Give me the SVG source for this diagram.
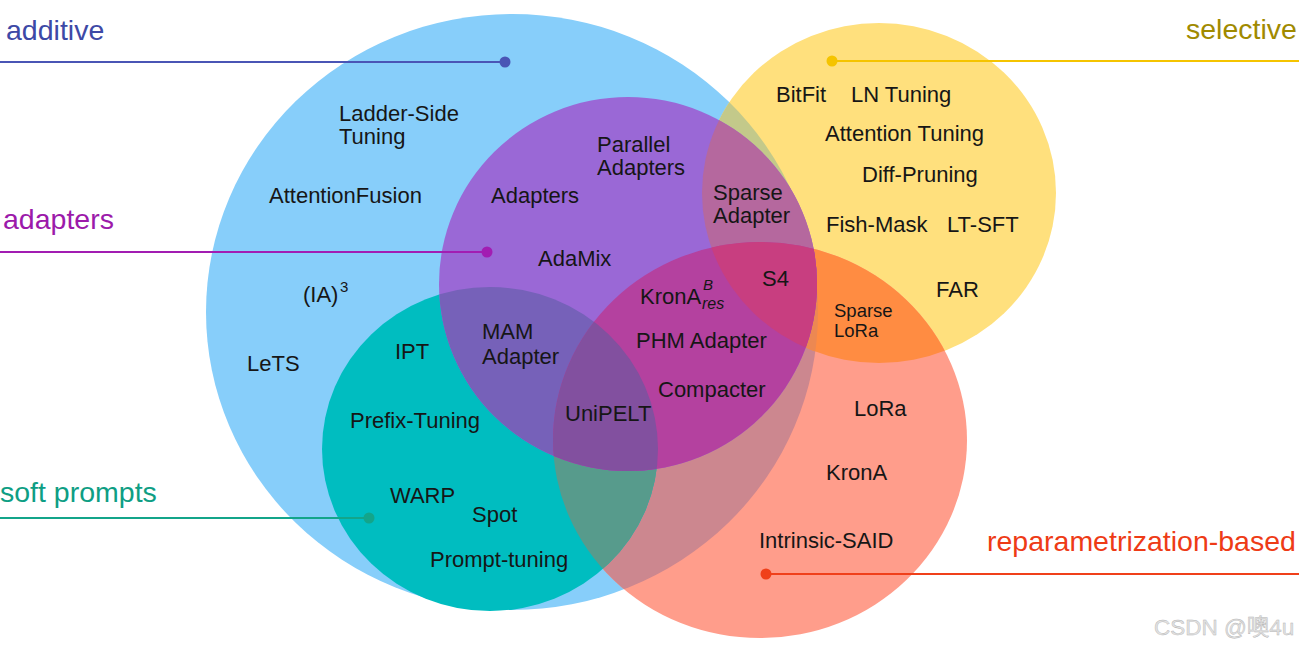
<svg xmlns="http://www.w3.org/2000/svg" xmlns:xlink="http://www.w3.org/1999/xlink" width="1299" height="649" viewBox="0 0 1299 649">
<style>
.t{font-family:"Liberation Sans",Arial,sans-serif;font-size:22px;fill:#161616}
.s{font-size:18.5px}
.cat{font-family:"Liberation Sans",Arial,sans-serif;font-size:28.5px}
.ln{stroke-width:2;fill:none}
</style>
<defs>
<ellipse id="eB" cx="512" cy="312" rx="306" ry="298"/>
<ellipse id="eY" cx="879" cy="193" rx="177" ry="170"/>
<ellipse id="eP" cx="628" cy="284" rx="189" ry="187"/>
<ellipse id="eT" cx="490" cy="449" rx="168" ry="162"/>
<ellipse id="eR" cx="760" cy="440" rx="207" ry="198"/>
<clipPath id="cB"><use xlink:href="#eB"/></clipPath>
<clipPath id="cY"><use xlink:href="#eY"/></clipPath>
<clipPath id="cP"><use xlink:href="#eP"/></clipPath>
<clipPath id="cT"><use xlink:href="#eT"/></clipPath>
<clipPath id="cR"><use xlink:href="#eR"/></clipPath>
</defs>
<rect width="1299" height="649" fill="#ffffff"/>

<g id="additive">
<use xlink:href="#eB" fill="#87CEFA"/>
</g>
<g id="selective">
<use xlink:href="#eY" fill="#FFE07D"/>
<use xlink:href="#eY" fill="#C3C98A" clip-path="url(#cB)"/>
</g>
<g id="reparametrization-based">
<use xlink:href="#eR" fill="#FF9D8B"/>
<use xlink:href="#eR" fill="#CC878F" clip-path="url(#cB)"/>
<use xlink:href="#eR" fill="#FF8C42" clip-path="url(#cY)"/>
<g clip-path="url(#cB)"><use xlink:href="#eR" fill="#EC8852" clip-path="url(#cY)"/></g>
</g>
<g id="soft-prompts">
<use xlink:href="#eT" fill="#00BDC0"/>
<use xlink:href="#eT" fill="#579B8C" clip-path="url(#cR)"/>
</g>
<g id="adapters">
<use xlink:href="#eP" fill="#9A68D6"/>
<use xlink:href="#eP" fill="#7661B9" clip-path="url(#cT)"/>
<use xlink:href="#eP" fill="#B5689E" clip-path="url(#cY)"/>
<use xlink:href="#eP" fill="#B4419F" clip-path="url(#cR)"/>
<g clip-path="url(#cR)"><use xlink:href="#eP" fill="#82509F" clip-path="url(#cT)"/></g>
<g clip-path="url(#cR)"><use xlink:href="#eP" fill="#C83E80" clip-path="url(#cY)"/></g>
</g>

<g id="connectors">
<line class="ln" x1="0" y1="62" x2="505" y2="62" stroke="#4A55B5"/>
<circle cx="505" cy="62" r="5.5" fill="#4A55B5"/>
<line class="ln" x1="0" y1="252" x2="487" y2="252" stroke="#A21DB2"/>
<circle cx="487" cy="252" r="5.5" fill="#A21DB2"/>
<line class="ln" x1="0" y1="518" x2="369" y2="518" stroke="#13A58A"/>
<circle cx="369" cy="518" r="5.5" fill="#13A58A"/>
<line class="ln" x1="832" y1="61" x2="1299" y2="61" stroke="#F5C400"/>
<circle cx="832" cy="61" r="5.5" fill="#F5C400"/>
<line class="ln" x1="766" y1="574" x2="1299" y2="574" stroke="#F0401A"/>
<circle cx="766" cy="574" r="5.5" fill="#F0401A"/>
</g>

<g id="category-labels">
<text class="cat" x="6" y="40" fill="#3D49A6">additive</text>
<text class="cat" x="3" y="229" fill="#9C1AAA">adapters</text>
<text class="cat" x="0" y="502" fill="#0E9E84">soft prompts</text>
<text class="cat" x="1186" y="39" fill="#A08A00">selective</text>
<text class="cat" x="987" y="551" fill="#EE3B16">reparametrization-based</text>
</g>

<g id="method-labels">
<text class="t" x="339" y="121">Ladder-Side</text>
<text class="t" x="339" y="144">Tuning</text>
<text class="t" x="269" y="203">AttentionFusion</text>
<text class="t" x="303" y="302">(IA)<tspan x="340" y="292" font-size="15">3</tspan></text>
<text class="t" x="247" y="371">LeTS</text>
<text class="t" x="491" y="203">Adapters</text>
<text class="t" x="597" y="152">Parallel</text>
<text class="t" x="597" y="175">Adapters</text>
<text class="t" x="538" y="266">AdaMix</text>
<text class="t" x="713" y="200">Sparse</text>
<text class="t" x="713" y="223">Adapter</text>
<text class="t" x="762" y="286">S4</text>
<text class="t" x="640" y="304">KronA<tspan x="703" y="290" font-size="15" font-style="italic">B</tspan><tspan x="702" y="309" font-size="16" font-style="italic">res</tspan></text>
<text class="t" x="636" y="348">PHM Adapter</text>
<text class="t" x="658" y="397">Compacter</text>
<text class="t" x="482" y="339">MAM</text>
<text class="t" x="482" y="364">Adapter</text>
<text class="t" x="395" y="359">IPT</text>
<text class="t" x="350" y="428">Prefix-Tuning</text>
<text class="t" x="565" y="421">UniPELT</text>
<text class="t" x="390" y="503">WARP</text>
<text class="t" x="472" y="522">Spot</text>
<text class="t" x="430" y="567">Prompt-tuning</text>
<text class="t" x="776" y="102">BitFit</text>
<text class="t" x="851" y="102">LN Tuning</text>
<text class="t" x="825" y="141">Attention Tuning</text>
<text class="t" x="862" y="182">Diff-Pruning</text>
<text class="t" x="826" y="232">Fish-Mask</text>
<text class="t" x="947" y="232">LT-SFT</text>
<text class="t" x="936" y="297">FAR</text>
<text class="t s" x="834" y="317">Sparse</text>
<text class="t s" x="834" y="337">LoRa</text>
<text class="t" x="854" y="416">LoRa</text>
<text class="t" x="826" y="480">KronA</text>
<text class="t" x="759" y="548">Intrinsic-SAID</text>
</g>

<g id="watermark">
<text x="1154" y="635" font-family="Liberation Sans, Noto Sans CJK SC, sans-serif" font-size="22.5" fill="#e2e2e2" stroke="#b4b4b4" stroke-width="0.4">CSDN @噢4u</text>
</g>
</svg>
